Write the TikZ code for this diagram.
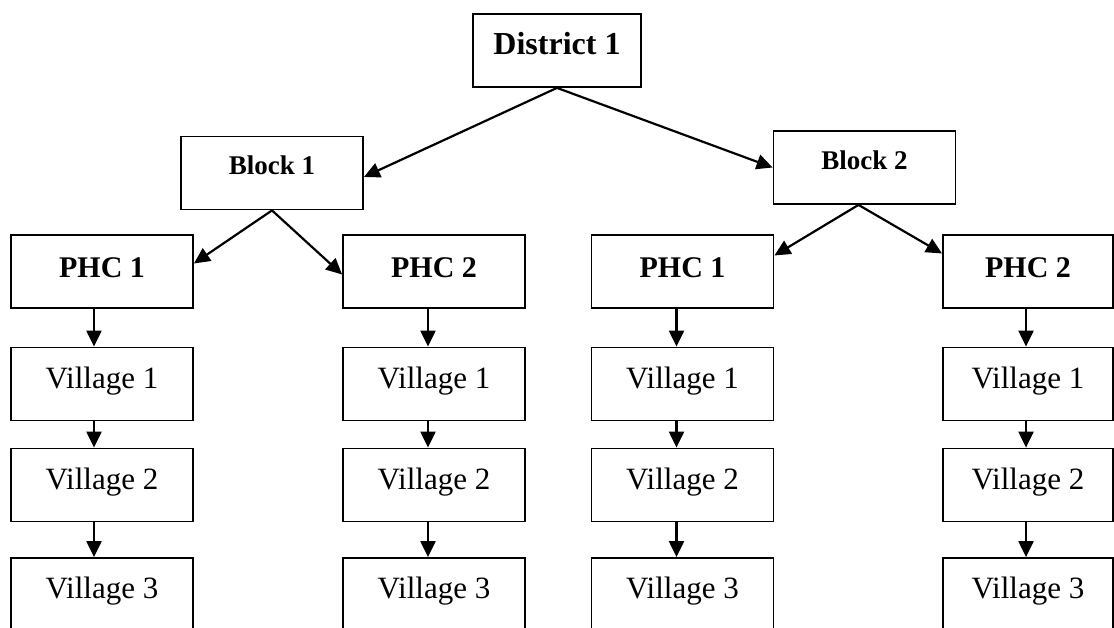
\documentclass[tikz,border=0pt]{standalone}
\usepackage{fontspec}
\setmainfont{Liberation Serif}
\usetikzlibrary{arrows.meta}
\tikzset{node distance=100pt,
  box/.style={draw, line width=1.8pt, inner sep=0pt, minimum height=73pt},
  distbox/.style={box, minimum width=168pt, font=\bfseries\fontsize{32}{36}\selectfont, text height=22pt, text depth=13.4pt},
  blockbox/.style={box, minimum width=182pt, font=\bfseries\fontsize{27}{32}\selectfont, text height=18pt, text depth=14.7pt},
  phcbox/.style={box, font=\bfseries\fontsize{30}{34}\selectfont, text height=22pt, text depth=10.7pt},
  villbox/.style={box, font=\fontsize{31}{36}\selectfont, text height=22pt, text depth=13.5pt},
  arr/.style={-{Triangle[length=16pt,width=15pt]}, line width=2.2pt}}
\begin{document}
\begin{tikzpicture}[x=1pt, y=-1pt]
  \useasboundingbox (0,0) rectangle (1114,628);
  \node[distbox] (D) at (557,50.5) {District 1};
  \node[blockbox] (B1) at (272,173) {Block 1};
  \node[blockbox] (B2) at (864.5,167.5) {Block 2};
  % one column per PHC
  \foreach \c/\x/\w/\t/\s in {1/102/182/PHC 1/-8pt, 2/434/182/PHC 2/-6pt,
                              3/682.5/182/PHC 1/-6pt, 4/1028/170/PHC 2/-2pt} {
    \node[phcbox, minimum width=\w pt] (P\c) at (\x,271.5) {\t};
    \node[villbox, minimum width=\w pt] (V\c1) [node distance=112.5pt, below of=P\c] {Village 1};
    \node[villbox, minimum width=\w pt] (V\c2) [node distance=101pt, below of=V\c1] {Village 2};
    \node[villbox, minimum width=\w pt] (V\c3) [node distance=109.5pt, below of=V\c2] {Village 3};
    \draw[arr] ([xshift=\s]P\c.south) -- ([xshift=\s]V\c1.north);
    \draw[arr] ([xshift=\s]V\c1.south) -- ([xshift=\s]V\c2.north);
    \draw[arr] ([xshift=\s]V\c2.south) -- ([xshift=\s]V\c3.north);
  }
  \draw[arr] (D.south) -- ([yshift=-4pt]B1.east);
  \draw[arr] (D.south) -- (B2.west);
  \draw[arr] (B1.south) -- ([yshift=8pt]P1.east);
  \draw[arr] (B1.south) -- ([yshift=-3pt]P2.west);
  \draw[arr] ([xshift=-6pt]B2.south) -- ([yshift=16pt]P3.east);
  \draw[arr] ([xshift=-6pt]B2.south) -- ([yshift=18pt]P4.west);
\end{tikzpicture}
\end{document}
